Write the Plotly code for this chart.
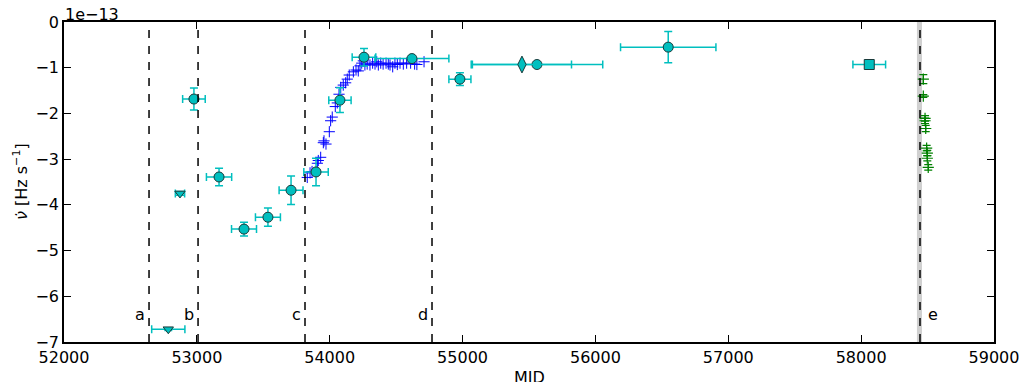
import plotly.graph_objects as go

# Values of nu-dot in units of 1e-13 Hz/s
circ_mjd = [52978, 53167, 53355, 53535, 53709, 53897, 54077, 54258, 54619, 54980, 55560, 56548]
circ_val = [-1.685, -3.39, -4.53, -4.27, -3.68, -3.28, -1.71, -0.77, -0.80, -1.25, -0.93, -0.55]
circ_xerr = [85, 95, 94, 94, 90, 92, 84, 89, 278, 83, 495, 359]
circ_yerr = [0.24, 0.19, 0.15, 0.20, 0.31, 0.30, 0.27, 0.19, 0.03, 0.14, 0.02, 0.34]

tri_mjd = [52873, 52785]
tri_val = [-3.75, -6.72]
tri_xerr = [35, 125]
tri_yerr = [0.04, 0.03]

dia_mjd = [55447]
dia_val = [-0.93]
dia_xerr = [373]

sq_mjd = [58061]
sq_val = [-0.93]
sq_xerr = [123]

blue_mjd = [53831, 53852, 53867, 53907, 53914, 53932, 53952, 53957, 53972, 53997, 54007, 54019,
            54042, 54057, 54070, 54083, 54102, 54120, 54132, 54147, 54178, 54198, 54215, 54228,
            54241, 54253, 54265, 54282, 54303, 54323, 54341, 54354, 54366, 54384, 54402, 54424,
            54441, 54454, 54474, 54491, 54509, 54529, 54554, 54579, 54609, 54639, 54656, 54710]
blue_val = [-3.40, -3.30, -3.27, -3.09, -3.03, -2.96, -2.64, -2.60, -2.67, -2.40, -2.16, -2.08,
            -1.85, -1.77, -1.58, -1.43, -1.38, -1.33, -1.25, -1.16, -1.09, -1.05, -1.07, -0.96,
            -0.90, -0.85, -0.94, -0.92, -0.94, -0.90, -0.92, -0.87, -0.94, -0.90, -0.92, -0.90,
            -0.92, -0.94, -0.98, -0.90, -0.93, -0.90, -0.92, -0.90, -0.90, -0.92, -0.93, -0.87]

green_mjd = [58468, 58468, 58481, 58481, 58486, 58493, 58498, 58498, 58505]
green_val = [-1.25, -1.62, -2.11, -2.16, -2.33, -2.76, -2.87, -2.98, -3.18]
green_yerr = [0.10, 0.03, 0.06, 0.06, 0.07, 0.06, 0.06, 0.06, 0.06]

event_mjd = [52640, 53009, 53814, 54770, 58443]
event_lbl = ["a", "b", "c", "d", "e"]
band_mjd = [58420, 58458]

CYAN = "#00BFBF"
FONT = "DejaVu Sans"

fig = go.Figure()

# gray band
fig.add_vrect(x0=band_mjd[0], x1=band_mjd[1], fillcolor="#d0d0d0", opacity=1, line_width=0, layer="below")

for m in event_mjd:
    fig.add_shape(type="line", x0=m, x1=m, y0=0, y1=1, xref="x", yref="paper",
                  line=dict(color="black", width=1.5, dash="8px,8px"))

fig.add_trace(go.Scatter(
    x=blue_mjd, y=blue_val, mode="markers",
    marker=dict(symbol="cross-thin", size=8, line=dict(color="#0000FF", width=1)),
    showlegend=False))

fig.add_trace(go.Scatter(
    x=green_mjd, y=green_val, mode="markers",
    marker=dict(symbol="cross-thin", size=8, line=dict(color="#008000", width=1.2)),
    error_y=dict(type="data", array=green_yerr, color="#008000", thickness=1.2, width=4),
    showlegend=False))

def cy_trace(x, y, xe, ye, sym, size):
    return go.Scatter(
        x=x, y=y, mode="markers",
        marker=dict(symbol=sym, size=size, color=CYAN, line=dict(color="#1a3a3a", width=1)),
        error_x=dict(type="data", array=xe, color=CYAN, thickness=1.5, width=4),
        error_y=dict(type="data", array=ye, color=CYAN, thickness=1.5, width=4) if ye else None,
        showlegend=False)

fig.add_trace(cy_trace(circ_mjd, circ_val, circ_xerr, circ_yerr, "circle", 10))
fig.add_trace(cy_trace(tri_mjd, tri_val, tri_xerr, tri_yerr, "triangle-down", 9))
fig.add_trace(cy_trace(dia_mjd, dia_val, dia_xerr, None, "diamond-tall", 12))
fig.add_trace(cy_trace(sq_mjd, sq_val, sq_xerr, None, "square", 10))

for m, l in zip(event_mjd, event_lbl):
    right = (l == "e")
    fig.add_annotation(x=m, y=-6.39, text=l, showarrow=False,
                       xanchor="left" if right else "right", xshift=6 if right else -2,
                       font=dict(size=16, color="black", family=FONT))

fig.add_annotation(xref="paper", yref="paper", x=0, y=1, text="1e\u221213", showarrow=False,
                   xanchor="left", yanchor="middle", yshift=8, borderpad=0,
                   font=dict(size=16, color="black", family=FONT))
fig.add_annotation(xref="paper", yref="paper", x=0.5, y=0, text="MJD", showarrow=False,
                   xanchor="center", yanchor="top", yshift=-24,
                   font=dict(size=16, color="black", family=FONT))
fig.add_annotation(xref="paper", yref="paper", x=0, y=0.5, text="<i>\u03bd\u0307</i> [Hz s<sup>\u22121</sup>]",
                   showarrow=False, textangle=-90, xanchor="center", yanchor="middle", xshift=-44,
                   font=dict(size=16, color="black", family=FONT))

axis_common = dict(showgrid=False, zeroline=False, showline=True, linecolor="black", linewidth=1.5,
                   mirror="ticks", ticks="inside", ticklen=7, tickwidth=1, tickcolor="black",
                   automargin=False,
                   tickfont=dict(size=16, color="black", family=FONT))

fig.update_xaxes(range=[52000, 59000], tickvals=list(range(52000, 59001, 1000)),
                 ticktext=[str(v) for v in range(52000, 59001, 1000)], **axis_common)
fig.update_yaxes(range=[-7, 0], tickvals=list(range(-7, 1)),
                 ticktext=["\u22127", "\u22126", "\u22125", "\u22124", "\u22123", "\u22122", "\u22121", "0"],
                 **axis_common)

# page body has an 8px default margin; size the figure so the plot area lands where the reference has it
fig.update_layout(width=1022, height=374, margin=dict(l=56, r=36, t=14, b=40),
                  plot_bgcolor="white", paper_bgcolor="white",
                  font=dict(family=FONT, size=16, color="black"))

fig.write_html("out.html")
